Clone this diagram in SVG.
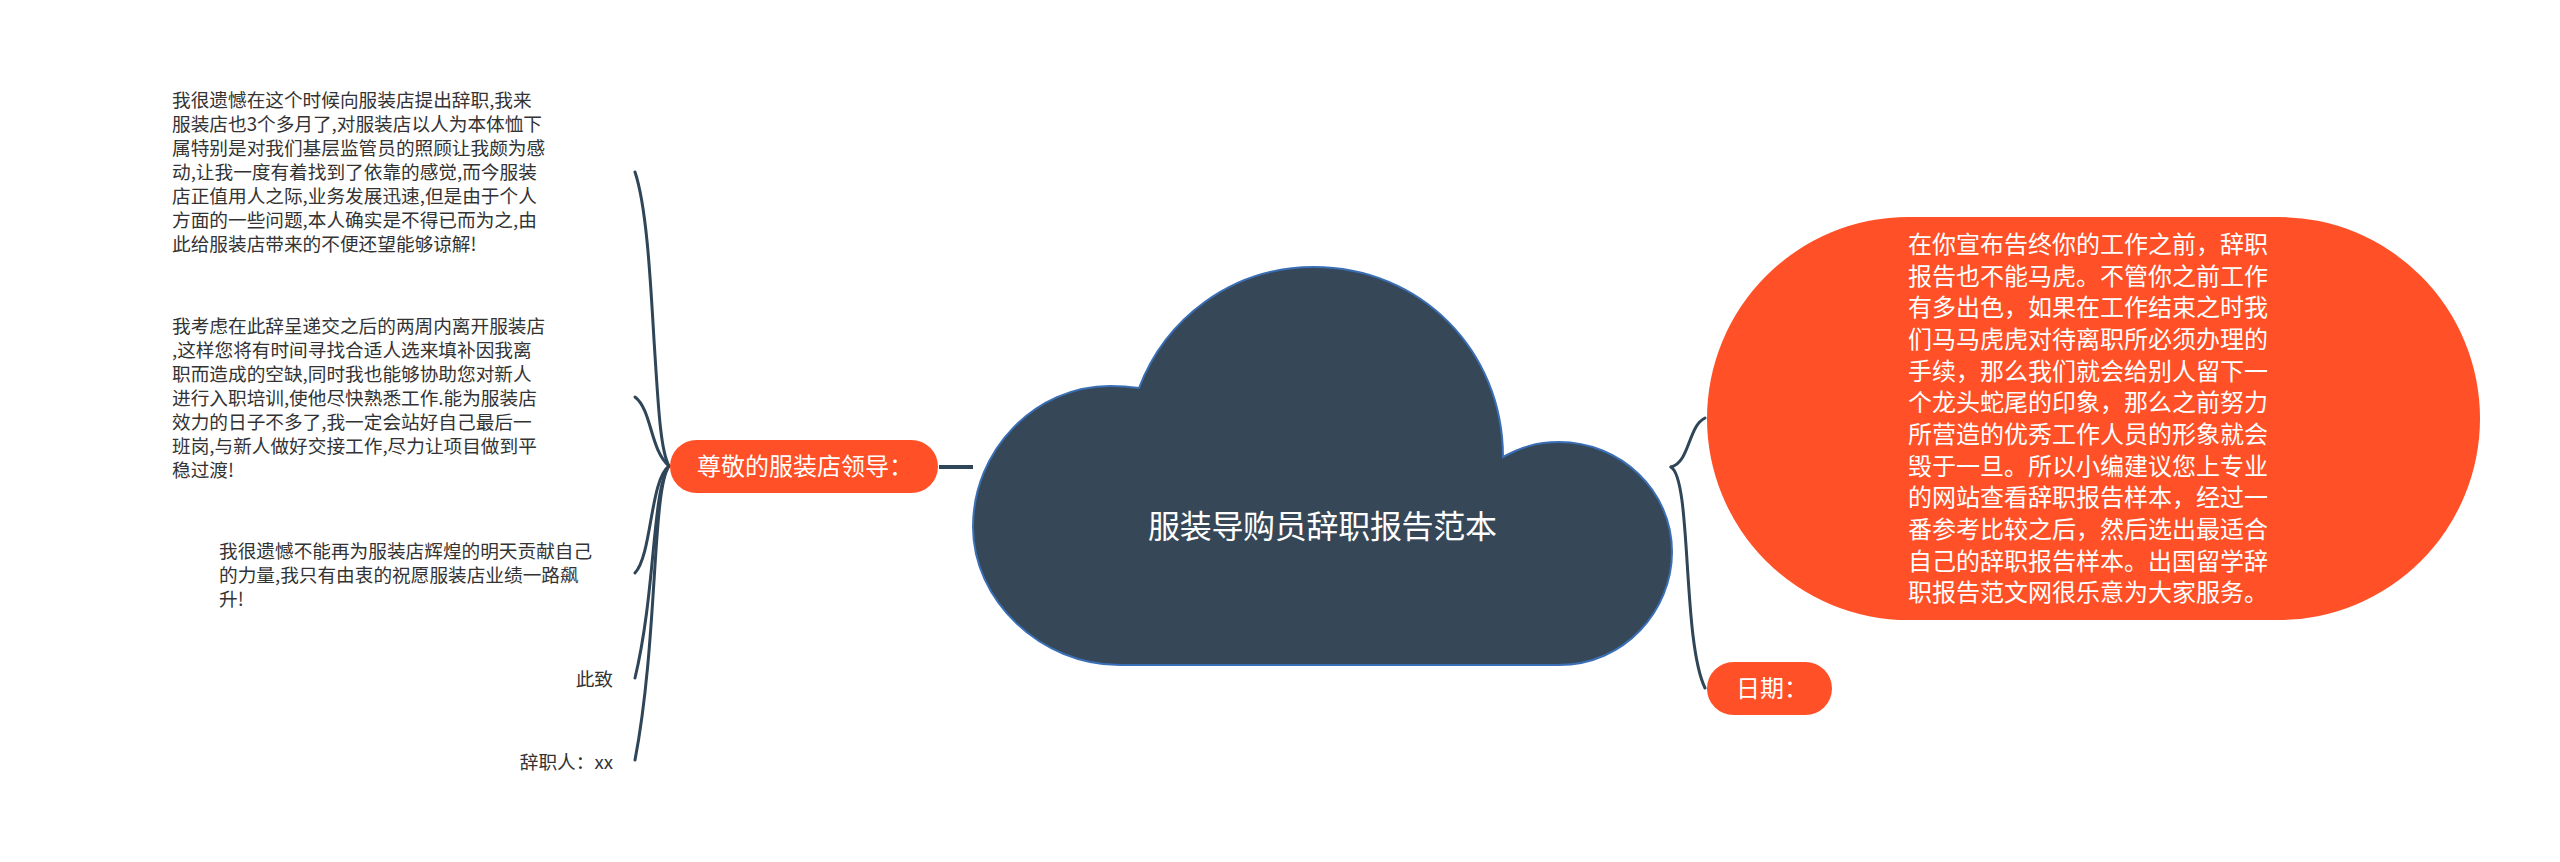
<svg xmlns="http://www.w3.org/2000/svg" width="2560" height="862" viewBox="0 0 2560 862">
<style>
text{font-family:"Noto Sans CJK SC","Noto Sans",sans-serif;font-weight:400}
.leaf{font-size:18.67px;fill:#333}
.w{font-size:24px;fill:#fff}
.t{font-size:32px;fill:#fff}
.o{fill:#ff5027}
.c{fill:none;stroke:#2f4558;stroke-width:3;stroke-linecap:round}
</style>
<rect width="2560" height="862" fill="#fff"/>
<g id="connectors">
<path class="c" d="M635 172C646 205 650 270 654 340C658 400 660 450 669 466"/>
<path class="c" d="M635 397C652 410 650 450 669 466"/>
<path class="c" d="M669 466C650 480 652 555 635 573"/>
<path class="c" d="M669 466C652 490 656 590 635 678"/>
<path class="c" d="M669 466C652 490 658 640 635 760"/>
<path d="M939 467H973" fill="none" stroke="#2f4558" stroke-width="4"/>
<path class="c" d="M1671 467C1690 462 1688 426 1705 418"/>
<path class="c" d="M1671 467C1692 480 1682 640 1705 688"/>
</g>
<g id="root">
<path d="M1120 665C1040 665 973 600 973 527C973 450 1035 386 1110 386Q1125 386 1139 388C1165 320 1230 267 1314 267C1420 267 1503 350 1503 457C1520 448 1535 442 1559 442C1620 442 1672 490 1672 552C1672 610 1625 665 1559 665Z" fill="#364858" stroke="#3a6fb5" stroke-width="2"/>
<text class="t" x="1148" y="538" textLength="349">服装导购员辞职报告范本</text>
</g>
<g id="n-left">
<rect class="o" x="670" y="440" width="268" height="53" rx="26.5"/>
<text class="w" x="697" y="475">尊敬的服装店领导：</text>
</g>
<g id="n-big">
<rect class="o" x="1707" y="217" width="773" height="403" rx="201.5"/>
<text class="w">
<tspan x="1908" y="253">在你宣布告终你的工作之前，辞职</tspan>
<tspan x="1908" y="285">报告也不能马虎。不管你之前工作</tspan>
<tspan x="1908" y="316">有多出色，如果在工作结束之时我</tspan>
<tspan x="1908" y="348">们马马虎虎对待离职所必须办理的</tspan>
<tspan x="1908" y="380">手续，那么我们就会给别人留下一</tspan>
<tspan x="1908" y="411">个龙头蛇尾的印象，那么之前努力</tspan>
<tspan x="1908" y="443">所营造的优秀工作人员的形象就会</tspan>
<tspan x="1908" y="475">毁于一旦。所以小编建议您上专业</tspan>
<tspan x="1908" y="506">的网站查看辞职报告样本，经过一</tspan>
<tspan x="1908" y="538">番参考比较之后，然后选出最适合</tspan>
<tspan x="1908" y="570">自己的辞职报告样本。出国留学辞</tspan>
<tspan x="1908" y="601">职报告范文网很乐意为大家服务。</tspan>
</text>
</g>
<g id="n-date">
<rect class="o" x="1707" y="662" width="125" height="53" rx="26.5"/>
<text class="w" x="1736" y="697">日期：</text>
</g>
<g id="leaf1">
<text class="leaf">
<tspan x="172" y="107">我很遗憾在这个时候向服装店提出辞职,我来</tspan>
<tspan x="172" y="131">服装店也3个多月了,对服装店以人为本体恤下</tspan>
<tspan x="172" y="155">属特别是对我们基层监管员的照顾让我颇为感</tspan>
<tspan x="172" y="179">动,让我一度有着找到了依靠的感觉,而今服装</tspan>
<tspan x="172" y="203">店正值用人之际,业务发展迅速,但是由于个人</tspan>
<tspan x="172" y="227">方面的一些问题,本人确实是不得已而为之,由</tspan>
<tspan x="172" y="251">此给服装店带来的不便还望能够谅解!</tspan>
</text>
</g>
<g id="leaf2">
<text class="leaf">
<tspan x="172" y="333">我考虑在此辞呈递交之后的两周内离开服装店</tspan>
<tspan x="172" y="357">,这样您将有时间寻找合适人选来填补因我离</tspan>
<tspan x="172" y="381">职而造成的空缺,同时我也能够协助您对新人</tspan>
<tspan x="172" y="405">进行入职培训,使他尽快熟悉工作.能为服装店</tspan>
<tspan x="172" y="429">效力的日子不多了,我一定会站好自己最后一</tspan>
<tspan x="172" y="453">班岗,与新人做好交接工作,尽力让项目做到平</tspan>
<tspan x="172" y="477">稳过渡!</tspan>
</text>
</g>
<g id="leaf3">
<text class="leaf">
<tspan x="219" y="558">我很遗憾不能再为服装店辉煌的明天贡献自己</tspan>
<tspan x="219" y="582">的力量,我只有由衷的祝愿服装店业绩一路飙</tspan>
<tspan x="219" y="606">升!</tspan>
</text>
</g>
<g id="leaf4"><text class="leaf" x="613" y="686" text-anchor="end">此致</text></g>
<g id="leaf5"><text class="leaf" x="613" y="769" text-anchor="end">辞职人：xx</text></g>
</svg>
